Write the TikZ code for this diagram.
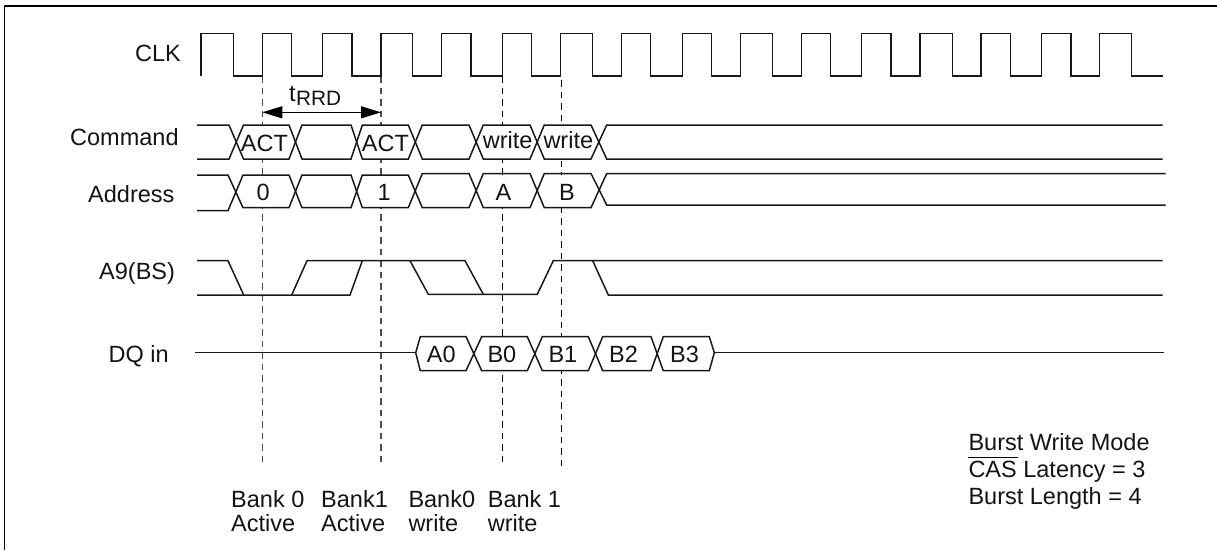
\documentclass[tikz,border=0pt]{standalone}
\usepackage{fontspec}
\setmainfont{Liberation Sans}
\usetikzlibrary{arrows.meta}
\tikzset{
  sig/.style={line width=1.5pt,line join=miter,draw=black!90},
  mask/.style={fill=white,draw=none},
  frame/.style={line width=1.5pt,draw=black},
  guide/.style={line width=1.1pt,dash pattern=on 6.5pt off 5pt},
  lab/.style={inner sep=0pt,anchor=base west,font=\fontsize{23.5pt}{26pt}\selectfont,text=black!92},
  sub/.style={inner sep=0pt,anchor=base west,font=\fontsize{20.8pt}{24pt}\selectfont,text=black!92},
  span/.style={line width=1.2pt,{Triangle[length=20pt,width=12pt]}-{Triangle[length=20pt,width=12pt]}}
}
\begin{document}
\begin{tikzpicture}[x=1pt,y=-1pt]
\useasboundingbox (0,0) rectangle (1217,550);
\fill[white] (0,0) rectangle (1217,550);
% frame
\draw[frame] (4.3,550) -- (4.3,6) -- (1217,6);
% guides
\draw[guide,draw=black!70] (262.3,76) -- (262.3,461.7);
\draw[guide,draw=black!70] (381,76) -- (381,461.7);
\draw[guide] (502.7,76) -- (502.7,464);
\draw[guide] (561.7,80) -- (561.7,466.7);
% the guides stop behind the bus cells
\foreach \gx in {262.3,381,502.7,561.7}{
  \fill[mask] (\gx-2,125) rectangle (\gx+2,159);
  \fill[mask] (\gx-2,175) rectangle (\gx+2,207.7);
}
\foreach \gx in {502.7,561.7}{
  \fill[mask] (\gx-2,336.7) rectangle (\gx+2,370.7);
}
% CLK
\draw[sig] (201,76) -- (201,33.5)
 -- (233.3,33.5) -- (233.3,76) -- (262.3,76) -- (262.3,33.5)
 -- (291.7,33.5) -- (291.7,76) -- (322.7,76) -- (322.7,33.5)
 -- (352,33.5) -- (352,76) -- (381,76) -- (381,33.5)
 -- (412.7,33.5) -- (412.7,76) -- (441.7,76) -- (441.7,33.5)
 -- (471,33.5) -- (471,76) -- (502.3,76) -- (502.3,33.5)
 -- (531.7,33.5) -- (531.7,76) -- (560.7,76) -- (560.7,33.5)
 -- (592.7,33.5) -- (592.7,76) -- (621.7,76) -- (621.7,33.5)
 -- (650.7,33.5) -- (650.7,76) -- (682.3,76) -- (682.3,33.5)
 -- (711.7,33.5) -- (711.7,76) -- (740.7,76) -- (740.7,33.5)
 -- (772.7,33.5) -- (772.7,76) -- (801.3,76) -- (801.3,33.5)
 -- (830.7,33.5) -- (830.7,76) -- (861.7,76) -- (861.7,33.5)
 -- (891,33.5) -- (891,76) -- (920,76) -- (920,33.5)
 -- (952.3,33.5) -- (952.3,76) -- (981,76) -- (981,33.5)
 -- (1010.3,33.5) -- (1010.3,76) -- (1041.7,76) -- (1041.7,33.5)
 -- (1071,33.5) -- (1071,76) -- (1099.7,76) -- (1099.7,33.5)
 -- (1131.7,33.5) -- (1131.7,76) -- (1162.7,76);
% tRRD span
\coordinate (spanL) at (262.3,112.3);
\coordinate (spanR) at (381,112.3);
\draw[span] (spanL) -- (spanR);
% Command
\draw[sig] (197,125) -- (229,125) -- (243.5,159) -- (289,159) -- (302,125) -- (351,125) -- (362.3,159) -- (408.3,159) -- (422.3,125) -- (469,125) -- (483.3,159) -- (530,159) -- (544.3,125) -- (591,125) -- (606.7,159) -- (1162.7,159);
\draw[sig] (197,159) -- (229,159) -- (243.5,125) -- (289,125) -- (302,159) -- (351,159) -- (362.3,125) -- (408.3,125) -- (422.3,159) -- (469,159) -- (483.3,125) -- (530,125) -- (544.3,159) -- (591,159) -- (606.7,125) -- (1162.7,125);
% Address
\draw[sig] (197,175) -- (228,175) -- (243,207.7) -- (289,207.7) -- (302,175) -- (351,175) -- (362.3,207.7) -- (408.3,207.7) -- (422.3,173.5) -- (469,173.5) -- (483.3,207.7) -- (530,207.7) -- (544.3,173.5) -- (591,173.5) -- (606.7,205) -- (1165.7,205);
\draw[sig] (197,210.7) -- (228,210.7) -- (243,175) -- (289,175) -- (302,207.7) -- (351,207.7) -- (362.3,175) -- (408.3,175) -- (422.3,207.7) -- (469,207.7) -- (483.3,173.5) -- (530,173.5) -- (544.3,207.7) -- (591,207.7) -- (606.7,173.5) -- (1165.7,173.5);
% A9(BS)
\draw[sig] (197,260.7) -- (228,260.7) -- (243.7,295) -- (350,295) -- (362.3,260.7) -- (465,260.7) -- (483.3,294.3) -- (537.3,294.3) -- (553.3,260.7) -- (1162.7,260.7);
\draw[sig] (197,295) -- (243.7,295) (291.7,295) -- (307,260.7) -- (362.3,260.7);
\draw[sig] (410,260.7) -- (428.3,294.3) -- (483.3,294.3);
\draw[sig] (592.7,260.7) -- (608.3,295) -- (1162.7,295);
% DQ
\draw[sig] (195.3,352.7) -- (415.7,352.7);
\draw[sig] (714.3,352.7) -- (1164,352.7);
\draw[sig] (415.7,352.7) -- (420.3,336.7) -- (466,336.7) -- (481.7,370.7) -- (527.3,370.7) -- (542.3,336.7) -- (588.3,336.7) -- (602.7,370.7) -- (651,370.7) -- (663.3,336.7) -- (709.3,336.7) -- (714.3,352.7);
\draw[sig] (415.7,352.7) -- (420.3,370.7) -- (466,370.7) -- (481.7,336.7) -- (527.3,336.7) -- (542.3,370.7) -- (588.3,370.7) -- (602.7,336.7) -- (651,336.7) -- (663.3,370.7) -- (709.3,370.7) -- (714.3,352.7);
% labels
\node[lab] (lclk) at (135,61.7) {CLK};
\node[lab] (lcmd) at (70,145.7) {Command};
\node[lab] (ladr) at (88,202.7) {Address};
\node[lab] (la9) at (99,279.3) {A9(BS)};
\node[lab] (ldq) at (108.5,362.7) {DQ in};
\node[lab] (trrdt) at (289,101.7) {t};
\node[sub] (trrds) at (296,105.7) {RRD};
\node[lab] (act0) at (240.7,151.7) {ACT};
\node[lab] (act1) at (361.7,151.7) {ACT};
\node[lab] (wr0) at (482.7,148.3) {write};
\node[lab] (wr1) at (543.3,148.3) {write};
\node[lab] (ad0) at (256.5,200) {0};
\node[lab] (ad1) at (377.5,200) {1};
\node[lab] (adA) at (495.5,200) {A};
\node[lab] (adB) at (559,200) {B};
\node[lab] (a0) at (426.7,362.7) {A0};
\node[lab] (b0) at (487.3,362.7) {B0};
\node[lab] (b1) at (548.3,362.7) {B1};
\node[lab] (b2) at (609,362.7) {B2};
\node[lab] (b3) at (670,362.7) {B3};
\node[lab] (bk0) at (231,507.3) {Bank 0};
\node[lab] (ac0) at (231,531.7) {Active};
\node[lab] (bk1) at (321,507.3) {Bank1};
\node[lab] (ac1) at (321,531.7) {Active};
\node[lab] (bk2) at (408.3,507.3) {Bank0};
\node[lab] (wt0) at (408.3,531.7) {write};
\node[lab] (bk3) at (487.7,507.3) {Bank 1};
\node[lab] (wt1) at (487.7,531.7) {write};
\node[lab] (n1) at (968.3,450) {Burst Write Mode};
\node[lab] (n2) at (968.3,477.7) {CAS Latency = 3};
\node[lab] (n3) at (968.3,504) {Burst Length = 4};
\draw[line width=1pt] (968,457.7) -- (1018,457.7);
\end{tikzpicture}
\end{document}
